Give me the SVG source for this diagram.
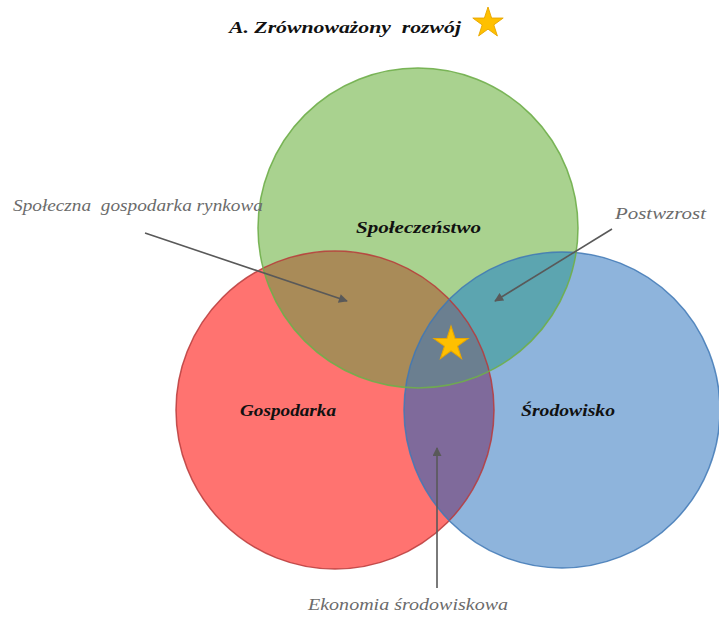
<svg xmlns="http://www.w3.org/2000/svg" width="719" height="617" viewBox="0 0 719 617">
<style>
.lbl{font-family:"Liberation Serif","DejaVu Serif",serif;font-style:italic;fill:#6b6b6b;font-size:17px}
.nm{font-family:"Liberation Serif","DejaVu Serif",serif;font-style:italic;font-weight:bold;fill:#111;font-size:17px}
.ar{stroke:#595959;stroke-width:1.6;fill:none;marker-end:url(#ah)}
.star{fill:#ffc000;stroke:#e8a600;stroke-width:1}
</style>
<defs>
<marker id="ah" viewBox="0 0 10 10" refX="9" refY="5" markerWidth="10" markerHeight="9" orient="auto" markerUnits="userSpaceOnUse">
<path d="M0,0 L10,5 L0,10 z" fill="#595959"/>
</marker>
<polygon id="st" points="0,-17 3.82,-5.26 16.17,-5.26 6.18,2.01 9.99,13.75 0,6.49 -9.99,13.75 -6.18,2.01 -16.17,-5.26 -3.82,-5.26"/>
<clipPath id="cG"><circle cx="418" cy="228" r="160"/></clipPath>
<clipPath id="cR"><circle cx="335" cy="410" r="159"/></clipPath>
<clipPath id="cB"><circle cx="562" cy="410" r="158"/></clipPath>
</defs>
<rect width="719" height="617" fill="#ffffff"/>
<g id="title">
<text x="229" y="33" class="nm" textLength="232" lengthAdjust="spacingAndGlyphs" xml:space="preserve">A. Zrównoważony  rozwój</text>
<use href="#st" class="star" transform="translate(488,23) scale(0.94)"/>
</g>
<g id="circles">
<g id="gospodarka"><circle cx="335" cy="410" r="159" fill="#ff7370"/></g>
<g id="srodowisko"><circle cx="562" cy="410" r="158" fill="#8eb4dc"/></g>
<g id="spoleczenstwo"><circle cx="418" cy="228" r="160" fill="#a9d28f"/></g>
<g id="overlaps">
<g clip-path="url(#cG)"><circle cx="335" cy="410" r="159" fill="#a98b58"/><circle cx="562" cy="410" r="158" fill="#5ca5b0"/></g>
<g clip-path="url(#cR)"><circle cx="562" cy="410" r="158" fill="#7f6a9b"/></g>
<g clip-path="url(#cR)"><g clip-path="url(#cB)"><circle cx="418" cy="228" r="160" fill="#6b7f90"/></g></g>
</g>
<circle cx="335" cy="410" r="159" fill="none" stroke="#b83a3a" stroke-width="1.5" opacity="0.85"/>
<circle cx="562" cy="410" r="158" fill="none" stroke="#3f78b5" stroke-width="1.5" opacity="0.85"/>
<circle cx="418" cy="228" r="160" fill="none" stroke="#6fae4a" stroke-width="1.5" opacity="0.9"/>
</g>
<g id="labels">
<text x="356" y="233" class="nm" textLength="125" lengthAdjust="spacingAndGlyphs">Społeczeństwo</text>
<text x="240" y="416" class="nm" textLength="96" lengthAdjust="spacingAndGlyphs">Gospodarka</text>
<text x="521" y="416" class="nm" textLength="94" lengthAdjust="spacingAndGlyphs">Środowisko</text>
<use href="#st" class="star" transform="translate(451,344) scale(1.06)"/>
</g>
<g id="connectors">
<line x1="145" y1="233" x2="347" y2="301" class="ar"/>
<line x1="612" y1="229" x2="495" y2="301" class="ar"/>
<line x1="437" y1="588" x2="437" y2="448" class="ar"/>
</g>
<g id="annotations">
<text x="13" y="211" class="lbl" textLength="250" lengthAdjust="spacingAndGlyphs" xml:space="preserve">Społeczna  gospodarka rynkowa</text>
<text x="615" y="219" class="lbl" textLength="91" lengthAdjust="spacingAndGlyphs">Postwzrost</text>
<text x="308" y="610" class="lbl" textLength="200" lengthAdjust="spacingAndGlyphs">Ekonomia środowiskowa</text>
</g>
</svg>
